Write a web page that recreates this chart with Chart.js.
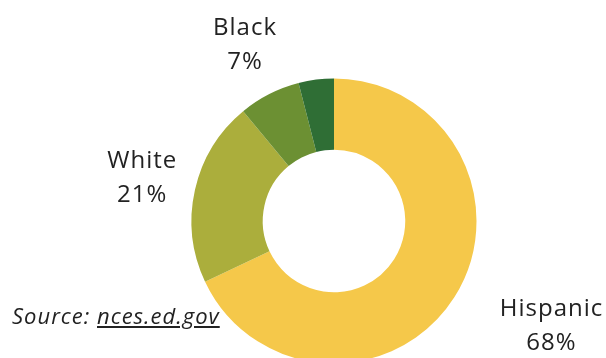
<!DOCTYPE html>
<html>
<head>
<meta charset="utf-8">
<script src="https://cdn.jsdelivr.net/npm/chart.js@4"></script>
<style>
    html, body { margin: 0; padding: 0; background: #fff; overflow: hidden; }
    #wrap { position: relative; width: 606px; height: 358px; overflow: hidden; }
    #source {
        position: absolute; left: 12px; top: 300px;
        font-family: "Open Sans", sans-serif; font-style: italic;
        font-size: 22px; letter-spacing: 1px; color: #222;
    }
    #source span { text-decoration: underline; }
</style>
</head>
<body>
<div id="wrap">
    <canvas id="chart" width="606" height="366"></canvas>
    <div id="source">Source: <span>nces.ed.gov</span></div>
</div>
<script>
const groups = ["Hispanic", "White", "Black", "Other"];
const shares = [68, 21, 7, 4];
const shownLabels = ["Hispanic", "White", "Black", ""];
const colors = ["#F5C84A", "#ABAE3C", "#6C9033", "#2F6E35"];

// labels sit on the slice's middle angle, except Hispanic which is pushed to the corner
const sliceLabels = {
    id: "sliceLabels",
    afterDraw(chart) {
        const ctx = chart.ctx;
        const meta = chart.getDatasetMeta(0);
        ctx.save();
        ctx.font = "24px 'Open Sans', sans-serif";
        ctx.letterSpacing = "1px";
        ctx.fillStyle = "#222";
        ctx.textAlign = "center";
        ctx.textBaseline = "middle";
        meta.data.forEach((arc, i) => {
            if (!shownLabels[i]) return;
            const mid = (arc.startAngle + arc.endAngle) / 2;
            let x = arc.x + Math.cos(mid) * 197;
            let y = arc.y + Math.sin(mid) * 197;
            if (i === 0) { x = 551; y = 326; }
            ctx.fillText(shownLabels[i], x + 0.5, y - 17);
            ctx.fillText(shares[i] + "%", x + 0.5, y + 17);
        });
        ctx.restore();
    }
};

new Chart(document.getElementById("chart"), {
    type: "doughnut",
    data: {
        labels: groups,
        datasets: [{
            data: shares,
            backgroundColor: colors,
            borderWidth: 0
        }]
    },
    options: {
        responsive: false,
        animation: false,
        cutout: "50%",
        layout: { padding: { left: 191.5, right: 129.5, top: 78.5, bottom: 2.5 } },
        plugins: {
            legend: { display: false },
            tooltip: { enabled: false }
        }
    },
    plugins: [sliceLabels]
});
</script>
</body>
</html>
